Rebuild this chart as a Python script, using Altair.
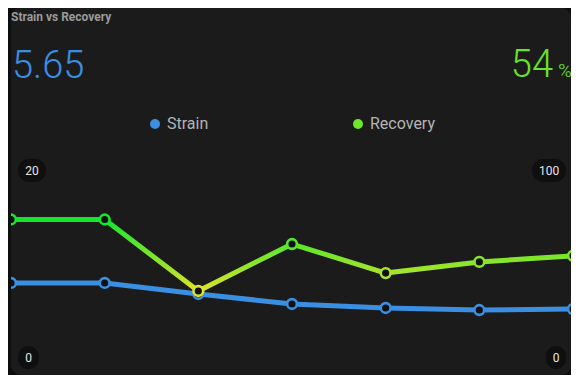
import altair as alt
import pandas as pd

# ---- data ----
idx = [0, 1, 2, 3, 4, 5, 6]
strain = [8.16, 8.16, 7.09, 6.12, 5.73, 5.53, 5.63]
recovery = [71.6, 71.6, 36.9, 59.7, 45.6, 51.0, 54.0]
strain_label = "5.65"
recovery_label = "54"
left_ticks = ["20", "0"]
right_ticks = ["100", "0"]
series_names = ["Strain", "Recovery"]

BLUE = "#3b8fe3"
YELLOW = (226, 226, 44)
GREEN = (16, 232, 42)
CMIN, CMAX = 36.0, 72.0


def hexc(c):
    return "#%02x%02x%02x" % tuple(int(round(v)) for v in c)


def rec_color(v):
    t = min(1.0, max(0.0, (v - CMIN) / (CMAX - CMIN)))
    return hexc(tuple(YELLOW[i] + (GREEN[i] - YELLOW[i]) * t for i in range(3)))


df = pd.DataFrame({"i": idx, "strain": strain, "recovery": recovery})

W, H = 560, 367
RANGE_Y = [359, 153]
FONT = "Roboto"

x_enc = alt.X("i:Q", scale=alt.Scale(domain=[0, 6], range=[0, 562], nice=False, zero=False), axis=None)

# gradient for recovery line: colour depends on value (vertical position)
top, bot = max(recovery), min(recovery)
stops = []
n = 12
for k in range(n + 1):
    off = k / n
    v = top - off * (top - bot)
    stops.append(alt.GradientStop(offset=off, color=rec_color(v)))
grad = alt.LinearGradient(gradient="linear", stops=stops, x1=0, x2=0, y1=0, y2=1)

base = alt.Chart(df)

strain_line = base.mark_line(strokeWidth=5, color=BLUE, strokeCap="round", strokeJoin="round", clip=True).encode(
    x=x_enc,
    y=alt.Y("strain:Q", scale=alt.Scale(domain=[0, 20], range=RANGE_Y), axis=None),
)
strain_pts = base.mark_point(filled=False, shape="circle", size=95, strokeWidth=2.6, fill="#111111",
                             fillOpacity=1, stroke=BLUE, opacity=1, clip=True).encode(
    x=x_enc,
    y=alt.Y("strain:Q", scale=alt.Scale(domain=[0, 20], range=RANGE_Y), axis=None),
)
rec_line = base.mark_line(strokeWidth=5, color=grad, strokeCap="round", strokeJoin="round", clip=True).encode(
    x=x_enc,
    y=alt.Y("recovery:Q", scale=alt.Scale(domain=[0, 100], range=RANGE_Y), axis=None),
)
rec_pts = base.mark_point(filled=False, shape="circle", size=95, strokeWidth=2.6, fill="#111111",
                          fillOpacity=1, opacity=1, clip=True).encode(
    x=x_enc,
    y=alt.Y("recovery:Q", scale=alt.Scale(domain=[0, 100], range=RANGE_Y), axis=None),
    stroke=alt.Stroke("recovery:Q", scale=alt.Scale(domain=[CMIN, CMAX], range=[hexc(YELLOW), hexc(GREEN)],
                                                     interpolate="rgb", clamp=True), legend=None),
)

one = alt.Chart(pd.DataFrame({"a": [0]}))


def txt(text, x, y, size, color, align="left", weight="normal", baseline="alphabetic"):
    return one.mark_text(text=text, fontSize=size, color=color, align=align, baseline=baseline,
                         font=FONT, fontWeight=weight).encode(x=alt.value(x), y=alt.value(y))


def badge(x1, x2, y1, y2):
    return one.mark_rect(color="#0f0f0f", cornerRadius=11).encode(
        x=alt.value(x1), x2=alt.value(x2), y=alt.value(y1), y2=alt.value(y2))


def dot(x, y, color):
    return one.mark_point(shape="circle", filled=True, size=100, color=color, opacity=1).encode(
        x=alt.value(x), y=alt.value(y))


deco = [
    txt("Strain vs Recovery", 0, 13, 12, "#9a9a9a", weight="bold"),
    txt(strain_label, 1, 70, 38, BLUE, weight=300),
    txt(recovery_label, 542, 69, 38, "#6be22a", align="right", weight=300),
    txt("%", 547, 69, 19, "#5fc42a"),
    dot(144, 116, BLUE),
    txt(series_names[0], 156, 121, 16, "#b4b4b4"),
    dot(347, 116, "#6ee62a"),
    txt(series_names[1], 359, 121, 16, "#b4b4b4"),
    badge(7, 35, 151, 174),
    txt(left_ticks[0], 21, 163, 12, "#e6e6e6", align="center", baseline="middle"),
    badge(7, 28, 338, 361),
    txt(left_ticks[1], 17.5, 350, 12, "#e6e6e6", align="center", baseline="middle"),
    badge(521, 555, 151, 174),
    txt(right_ticks[0], 538, 163, 12, "#e6e6e6", align="center", baseline="middle"),
    badge(535, 555, 338, 361),
    txt(right_ticks[1], 545, 350, 12, "#e6e6e6", align="center", baseline="middle"),
]

chart = alt.layer(strain_line, strain_pts, rec_line, rec_pts, *deco).resolve_scale(
    y="independent", stroke="independent"
).properties(
    width=W, height=H,
    autosize=alt.AutoSizeParams(type="none"),
    padding={"left": 3, "top": 0, "right": 0, "bottom": 0},
    background="#0e0e0e",
).configure_view(
    fill="#1b1b1b", strokeWidth=0, cornerRadius=10
)

chart.save("out.html", embed_options={"renderer": "svg", "actions": False})
